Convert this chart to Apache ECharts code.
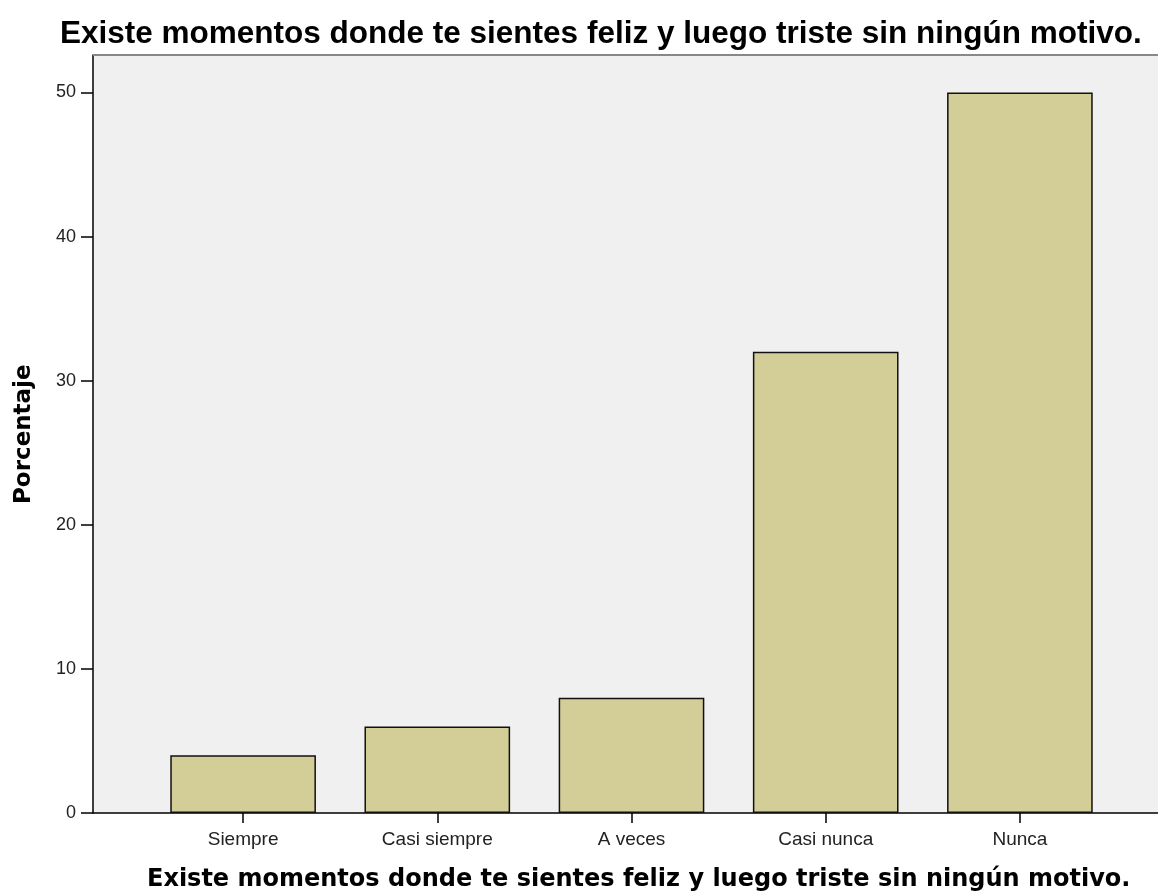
<!DOCTYPE html>
<html>
<head>
<meta charset="utf-8">
<script src="https://cdn.jsdelivr.net/npm/echarts@6/dist/echarts.min.js"></script>
<style>html,body{margin:0;padding:0;background:#fff}#c{width:1158px;height:896px}</style>
</head>
<body>
<div id="c"></div>
<script>
const categories = ['Siempre', 'Casi siempre', 'A veces', 'Casi nunca', 'Nunca'];
const values = [4, 6, 8, 32, 50];
const yTicks = [0, 10, 20, 30, 40, 50];
const titleText = 'Existe momentos donde te sientes feliz y luego triste sin ningún motivo.';
const yTitle = 'Porcentaje';

const chart = echarts.init(document.getElementById('c'), null, {renderer: 'canvas'});
const yMax = 52.6;
chart.setOption({
  animation: false,
  backgroundColor: '#ffffff',
  title: {
    text: titleText,
    left: 60, top: 18, padding: 0,
    textStyle: {fontFamily: 'Liberation Sans, Arial', fontWeight: 'bold', fontSize: 31.5, color: '#000'}
  },
  graphic: [
    {type: 'text', left: 147, top: 868, style: {text: titleText, font: 'bold 24px "DejaVu Sans"', fill: '#000'}},
    {type: 'text', rotation: Math.PI/2, x: 13, y: 504, style: {text: yTitle, font: 'bold 23px "DejaVu Sans"', fill: '#000'}}
  ],
  grid: [
    {left: 93, right: 0, top: 55, bottom: 83, show: true, backgroundColor: '#f0f0f0', borderWidth: 0},
    {left: 146, right: 41, top: 55, bottom: 83}
  ],
  xAxis: [
    {type: 'value', gridIndex: 0, min: 0, max: 1, axisLine: {show: true, lineStyle: {color: '#000', width: 1.5}},
     axisTick: {show: false}, axisLabel: {show: false}, splitLine: {show: false}},
    {type: 'category', gridIndex: 1, data: categories,
     axisLine: {show: false}, axisTick: {show: true, alignWithLabel: true, length: 10, lineStyle: {color: '#000', width: 1.5}},
     axisLabel: {fontFamily: 'Liberation Sans, Arial', fontSize: 19, color: '#222', margin: 17}}
  ],
  yAxis: [
    {type: 'value', gridIndex: 0, min: 0, max: yMax,
     axisLine: {show: true, lineStyle: {color: '#000', width: 1.5}},
     axisTick: {show: true, length: 12, customValues: yTicks, lineStyle: {color: '#000', width: 1.5}},
     axisLabel: {fontFamily: 'Liberation Sans, Arial', fontSize: 18, color: '#222', margin: 17, customValues: yTicks},
     splitLine: {show: false}},
    {type: 'value', gridIndex: 1, min: 0, max: yMax, show: false, splitLine: {show: false}}
  ],
  series: [
    {type: 'line', xAxisIndex: 0, yAxisIndex: 0, data: [[0, yMax], [1, yMax]], symbol: 'none',
     lineStyle: {color: '#888', width: 2}, silent: true},
    {type: 'bar', xAxisIndex: 1, yAxisIndex: 1, data: values, barCategoryGap: '25%',
     itemStyle: {color: '#d3ce97', borderColor: '#111', borderWidth: 1.5}}
  ]
});
</script>
</body>
</html>
